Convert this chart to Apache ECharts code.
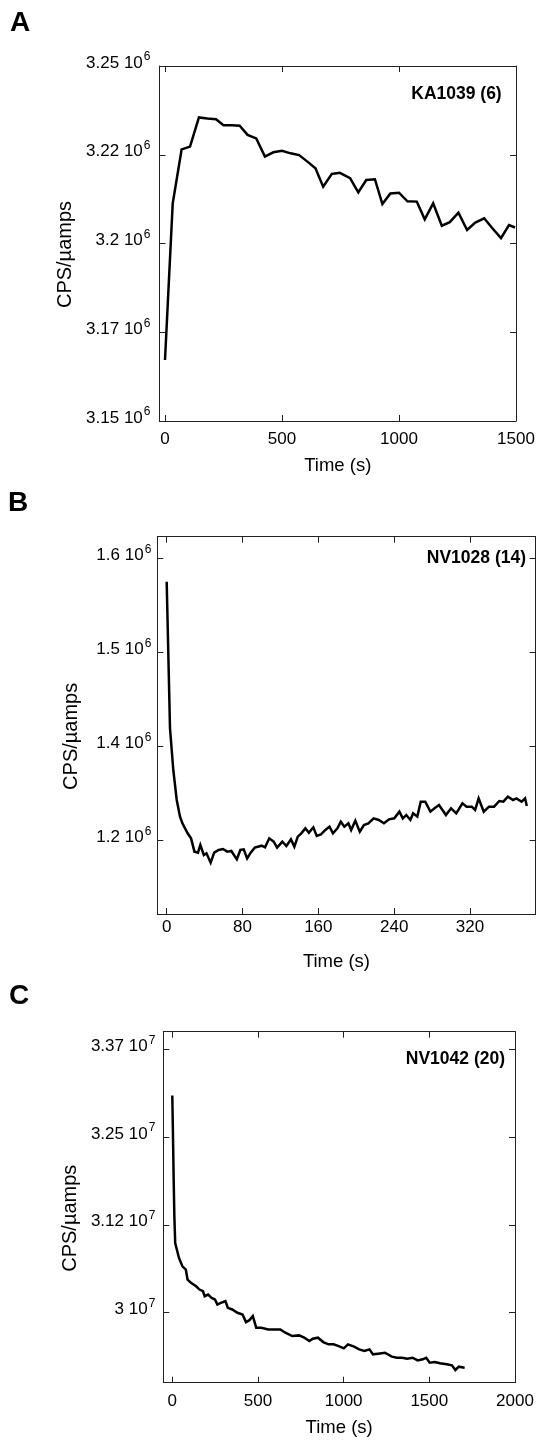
<!DOCTYPE html>
<html>
<head>
<meta charset="utf-8">
<script src="https://cdn.jsdelivr.net/npm/echarts@6/dist/echarts.min.js"></script>
<style>
  html, body { margin: 0; padding: 0; background: #fff; }
  #chart { width: 540px; height: 1441px; }
</style>
</head>
<body>
<div id="chart"></div>
<script>
// ---- Panel A: KA1039 (6) ----
const timeA = [0, 33, 71, 107, 145, 181, 218, 250, 285, 319, 353, 390, 427, 463, 500, 537, 573, 610, 643, 676,
  713, 747, 791, 826, 860, 897, 929, 963, 1000, 1036, 1076, 1110, 1146, 1183, 1217, 1254, 1291, 1326, 1364,
  1399, 1436, 1470, 1496];
const cpsA = [3.1672e6, 3.2113e6, 3.2265e6, 3.2273e6, 3.2355e6, 3.2352e6, 3.2350e6, 3.2333e6, 3.2333e6, 3.2332e6,
  3.2306e6, 3.2296e6, 3.2245e6, 3.2257e6, 3.2261e6, 3.2254e6, 3.2249e6, 3.2230e6, 3.2212e6, 3.2160e6,
  3.2196e6, 3.2199e6, 3.2184e6, 3.2144e6, 3.2179e6, 3.2181e6, 3.2111e6, 3.2141e6, 3.2143e6, 3.2119e6,
  3.2118e6, 3.2068e6, 3.2113e6, 3.2050e6, 3.2060e6, 3.2087e6, 3.2038e6, 3.2059e6, 3.2071e6, 3.2043e6,
  3.2015e6, 3.2052e6, 3.2045e6];
const xTicksA = [0, 500, 1000, 1500];
const yTicksA = [3.15e6, 3.175e6, 3.2e6, 3.225e6, 3.25e6];
const yTickLabelsA = ['3.15', '3.17', '3.2', '3.22', '3.25'];

// ---- Panel B: NV1028 (14) ----
const timeB = [0, 3.5, 7, 10.6, 14, 16.6, 22.1, 25.7, 29.3, 33.0, 35.5, 39.2, 42.0, 46.4, 50.1, 54.8, 59.5, 63.9,
  68.2, 74.0, 77.7, 81.3, 84.9, 88.6, 92.9, 100.2, 103.8, 108.2, 112.9, 116.5, 122.0, 126.3, 131.1, 134.7,
  138.3, 142.0, 146.3, 150.0, 154.7, 158.3, 162.7, 167.4, 171.8, 175.4, 180.1, 183.7, 187.4, 191.7, 194.6,
  199.0, 203.7, 208.1, 212.8, 218.3, 223.7, 229.2, 234.6, 240.1, 245.5, 249.1, 252.8, 257.1, 260.0, 264.4,
  268.0, 272.8, 278.2, 282.6, 287.3, 294.6, 300.0, 305.5, 312.0, 316.4, 321.8, 325.4, 329.1, 334.5, 340.0,
  345.4, 350.9, 355.2, 359.9, 365.4, 369.0, 374.5, 378.1, 379.9];
const cpsB = [1.5926e6, 1.4211e6, 1.3720e6, 1.3372e6, 1.3180e6, 1.3099e6, 1.2982e6, 1.2923e6, 1.2767e6, 1.2755e6,
  1.2845e6, 1.2728e6, 1.2748e6, 1.2638e6, 1.2755e6, 1.2787e6, 1.2798e6, 1.2767e6, 1.2775e6, 1.2677e6,
  1.2787e6, 1.2794e6, 1.2689e6, 1.2755e6, 1.2814e6, 1.2837e6, 1.2818e6, 1.2923e6, 1.2884e6, 1.2814e6,
  1.2884e6, 1.2833e6, 1.2911e6, 1.2826e6, 1.2943e6, 1.2982e6, 1.3040e6, 1.2989e6, 1.3052e6, 1.2951e6,
  1.2970e6, 1.3021e6, 1.3060e6, 1.2982e6, 1.3040e6, 1.3118e6, 1.3060e6, 1.3099e6, 1.3021e6, 1.3130e6,
  1.3001e6, 1.3079e6, 1.3099e6, 1.3157e6, 1.3138e6, 1.3099e6, 1.3145e6, 1.3157e6, 1.3235e6, 1.3157e6,
  1.3196e6, 1.3138e6, 1.3216e6, 1.3177e6, 1.3352e6, 1.3352e6, 1.3235e6, 1.3274e6, 1.3313e6, 1.3196e6,
  1.3274e6, 1.3216e6, 1.3333e6, 1.3294e6, 1.3294e6, 1.3255e6, 1.3391e6, 1.3235e6, 1.3294e6, 1.3294e6,
  1.3360e6, 1.3352e6, 1.3411e6, 1.3372e6, 1.3391e6, 1.3352e6, 1.3391e6, 1.3301e6];
const xTicksB = [0, 80, 160, 240, 320];
const yTicksB = [1.29e6, 1.40e6, 1.51e6, 1.62e6];
const yTickLabelsB = ['1.2', '1.4', '1.5', '1.6'];

// ---- Panel C: NV1042 (20) ----
const timeC = [0, 4, 8, 12, 17, 39, 59, 79, 89, 109, 139, 159, 179, 189, 209, 229, 249, 263, 283, 310, 324, 350,
  380, 410, 430, 450, 470, 490, 520, 560, 600, 630, 660, 700, 740, 770, 800, 820, 850, 881, 911, 941, 971,
  1001, 1025, 1061, 1091, 1121, 1151, 1171, 1201, 1241, 1281, 1311, 1341, 1371, 1402, 1432, 1462, 1482,
  1502, 1532, 1562, 1602, 1632, 1652, 1672, 1706];
const cpsC = [3.309e7, 3.252e7, 3.190e7, 3.137e7, 3.099e7, 3.0777e7, 3.0658e7, 3.0611e7, 3.0469e7, 3.0422e7,
  3.0374e7, 3.0327e7, 3.0303e7, 3.0232e7, 3.0256e7, 3.0209e7, 3.0185e7, 3.0114e7, 3.0138e7, 3.0161e7,
  3.0067e7, 3.0043e7, 2.9996e7, 2.9972e7, 2.9863e7, 2.9891e7, 2.9948e7, 2.9783e7, 2.9783e7, 2.9759e7,
  2.9759e7, 2.9759e7, 2.9712e7, 2.9664e7, 2.9674e7, 2.9641e7, 2.9593e7, 2.9626e7, 2.9641e7, 2.9579e7,
  2.9546e7, 2.9546e7, 2.9522e7, 2.9489e7, 2.9546e7, 2.9513e7, 2.9475e7, 2.9451e7, 2.9475e7, 2.9404e7,
  2.9413e7, 2.9427e7, 2.9371e7, 2.9356e7, 2.9356e7, 2.9342e7, 2.9356e7, 2.9318e7, 2.9333e7, 2.9356e7,
  2.9285e7, 2.9295e7, 2.9276e7, 2.9262e7, 2.9247e7, 2.9181e7, 2.9228e7, 2.9214e7];
const xTicksC = [0, 500, 1000, 1500, 2000];
const yTicksC = [3.0e7, 3.125e7, 3.25e7, 3.375e7];
const yTickLabelsC = ['3', '3.12', '3.25', '3.37'];

const FONT = '"Liberation Sans", Arial, Helvetica, sans-serif';
const INK = '#000';
const FRAME = '#222';

function pairs(xs, ys) { return xs.map((x, i) => [x, ys[i]]); }

// y tick label: mantissa followed by "10" with a raised exponent
function yLabelFormatter(ticks, labels, exp) {
  const tol = Math.abs(ticks[1] - ticks[0]) * 1e-3;
  return function (val) {
    const k = ticks.findIndex(t => Math.abs(t - val) < tol);
    return k < 0 ? '' : '{m|' + labels[k] + ' 10}{e|' + exp + '}';
  };
}

const panels = [
  { grid: { left: 159.5, top: 66, width: 356.5, height: 355 },
    x: { min: -23.5, max: 1500, ticks: xTicksA, margin: 10, nameGap: 35, namePad: [0, 0, 0, 0] },
    y: { min: 3.15e6, max: 3.25e6, ticks: yTicksA, labels: yTickLabelsA, exp: '6', margin: 9, nameGap: 80 },
    series: pairs(timeA, cpsA),
    tag: { text: 'KA1039 (6)', right: 38.3, top: 85.5 },
    letter: { text: 'A', left: 10, top: 9 } },
  { grid: { left: 157.3, top: 536.7, width: 378.3, height: 377.3 },
    x: { min: -9.9, max: 389.2, ticks: xTicksB, margin: 5, nameGap: 38, namePad: [0, 20, 0, 0] },
    y: { min: 1.20376e6, max: 1.64528e6, ticks: yTicksB, labels: yTickLabelsB, exp: '6', margin: 6, nameGap: 76 },
    series: pairs(timeB, cpsB),
    tag: { text: 'NV1028 (14)', right: 14, top: 549.5 },
    letter: { text: 'B', left: 8, top: 489 } },
  { grid: { left: 163.3, top: 1031.7, width: 351.7, height: 351 },
    x: { min: -52.5, max: 2000, ticks: xTicksC, margin: 10, nameGap: 36, namePad: [0, 0, 0, 0] },
    y: { min: 2.9e7, max: 3.4e7, ticks: yTicksC, labels: yTickLabelsC, exp: '7', margin: 8, nameGap: 82 },
    series: pairs(timeC, cpsC),
    tag: { text: 'NV1042 (20)', right: 35, top: 1050 },
    letter: { text: 'C', left: 9, top: 982 } }
];

const option = {
  animation: false,
  backgroundColor: '#fff',
  title: [], grid: [], xAxis: [], yAxis: [], series: []
};

panels.forEach((p, i) => {
  option.grid.push(Object.assign({ containLabel: false }, p.grid));

  const frameLine = { show: true, onZero: false, lineStyle: { color: FRAME, width: 1 } };
  const tick = (vals) => ({ show: true, inside: true, length: 6, customValues: vals,
    lineStyle: { color: FRAME, width: 1 } });

  // bottom axis with labels, top axis mirrors the ticks
  option.xAxis.push({
    type: 'value', gridIndex: i, position: 'bottom', min: p.x.min, max: p.x.max,
    axisLine: frameLine, axisTick: tick(p.x.ticks), splitLine: { show: false },
    axisLabel: { customValues: p.x.ticks, margin: p.x.margin, color: INK, fontSize: 17, fontFamily: FONT,
      formatter: v => String(v) },
    name: 'Time (s)', nameLocation: 'middle', nameGap: p.x.nameGap,
    nameTextStyle: { color: INK, fontSize: 18.5, fontFamily: FONT, padding: p.x.namePad }
  });
  option.xAxis.push({
    type: 'value', gridIndex: i, position: 'top', min: p.x.min, max: p.x.max,
    axisLine: frameLine, axisTick: tick(p.x.ticks), splitLine: { show: false },
    axisLabel: { show: false }
  });

  // left axis with labels, right axis mirrors the ticks
  option.yAxis.push({
    type: 'value', gridIndex: i, position: 'left', min: p.y.min, max: p.y.max,
    axisLine: frameLine, axisTick: tick(p.y.ticks), splitLine: { show: false },
    axisLabel: {
      customValues: p.y.ticks, margin: p.y.margin,
      formatter: yLabelFormatter(p.y.ticks, p.y.labels, p.y.exp),
      rich: {
        m: { fontSize: 17, fontFamily: FONT, color: INK, padding: [0, 0, 6, 0] },
        e: { fontSize: 12, fontFamily: FONT, color: INK, padding: [0, 0, 18, 1] }
      }
    },
    name: 'CPS/µamps', nameLocation: 'middle', nameRotate: 90, nameGap: p.y.nameGap,
    nameTextStyle: { color: INK, fontSize: 20, fontFamily: FONT, padding: [0, 22, 0, 0] }
  });
  option.yAxis.push({
    type: 'value', gridIndex: i, position: 'right', min: p.y.min, max: p.y.max,
    axisLine: frameLine, axisTick: tick(p.y.ticks), splitLine: { show: false },
    axisLabel: { show: false }
  });

  option.series.push({
    type: 'line', xAxisIndex: 2 * i, yAxisIndex: 2 * i, data: p.series,
    showSymbol: false, symbol: 'none', smooth: false, clip: true,
    lineStyle: { color: INK, width: 2.5, join: 'miter' }
  });

  option.title.push({
    text: p.tag.text, right: p.tag.right, top: p.tag.top, padding: 0,
    textStyle: { color: INK, fontSize: 17.5, fontWeight: 'bold', fontFamily: FONT }
  });
  option.title.push({
    text: p.letter.text, left: p.letter.left, top: p.letter.top, padding: 0,
    textStyle: { color: INK, fontSize: 28, fontWeight: 'bold', fontFamily: FONT }
  });
});

const chart = echarts.init(document.getElementById('chart'), null, { renderer: 'canvas' });
chart.setOption(option);
</script>
</body>
</html>
